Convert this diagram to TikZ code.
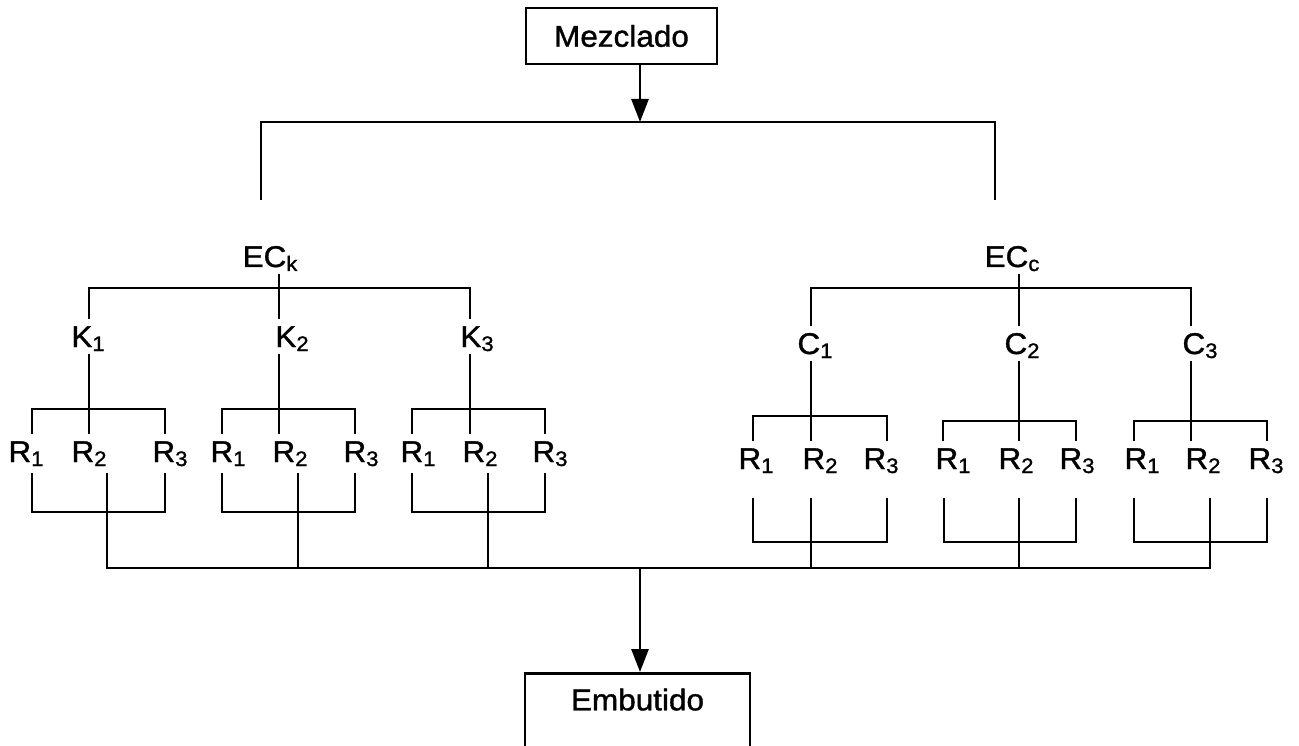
\documentclass[tikz,border=0pt]{standalone}
\usepackage{fontspec}
\setmainfont{Liberation Sans}[FakeStretch=1.05,FakeBold=1.2]
\usetikzlibrary{arrows.meta}
\newcommand\subidx[1]{\raisebox{-4pt}{\fontsize{21}{21}\selectfont#1}}

\begin{document}
\begin{tikzpicture}[
  x=1pt,y=1pt,font=\fontsize{30}{34}\selectfont,
  box/.style={draw,line width=2.6pt,minimum width=191pt,minimum height=56pt,inner sep=0pt},
  lbl/.style={anchor=base,inner xsep=0pt,inner ysep=7pt,text height=21pt,text depth=0pt},
  rl/.style={lbl,text depth=4pt},
  rr/.style={lbl,text depth=22pt},
  link/.style={line width=2.8pt},
  flow/.style={link,-{Triangle[length=23pt,width=17pt]}}
]
\path[use as bounding box] (0,0) rectangle (1299,-746);
\clip (0,0) rectangle (1299,-746);

\node[box] (mez) at (621.5,-36) {Mezclado};
\node[box,anchor=north,minimum width=225pt,text height=37pt,text depth=80pt]
  (emb) at (637.5,-672) {Embutido};

\coordinate (split) at (640,-122);
\coordinate (topk) at (261,-200);
\coordinate (topc) at (995,-200);
\draw[flow] (mez.south -| split) -- (split);
\draw[link] (topk) |- (split) -| (topc);

% EC_k branch
\node[lbl] (eck) at (270,-267) {EC\subidx{k}};
\node[lbl] (k1) at (88,-347) {K\subidx{1}};
\node[lbl] (k2) at (292,-347) {K\subidx{2}};
\node[lbl] (k3) at (477,-347) {K\subidx{3}};
\coordinate (eckj) at (279,-288);
\coordinate (k1j) at (89,-409);
\coordinate (k2j) at (279,-409);
\coordinate (k3j) at (470,-409);
\draw[link] (eck.south -| eckj) -- (eckj);
\draw[link] (k1.north -| k1j) |- (eckj) -| (k3.north -| k3j);
\draw[link] (eckj) -- (k2.north -| k2j);

\node[rl] (r11) at (26,-462) {R\subidx{1}};
\node[rl] (r12) at (89,-462) {R\subidx{2}};
\node[rl] (r13) at (170,-462) {R\subidx{3}};
\node[rl] (r21) at (228,-462) {R\subidx{1}};
\node[rl] (r22) at (290,-462) {R\subidx{2}};
\node[rl] (r23) at (361,-462) {R\subidx{3}};
\node[rl] (r31) at (418,-462) {R\subidx{1}};
\node[rl] (r32) at (480,-462) {R\subidx{2}};
\node[rl] (r33) at (550,-462) {R\subidx{3}};
\draw[link] (k1.south -| k1j) -- (k1j |- r12.north);
\draw[link] (k2.south -| k2j) -- (k2j |- r22.north);
\draw[link] (k3.south -| k3j) -- (k3j |- r32.north);
\draw[link] ([xshift=6pt]r11.north) |- (k1j) -| ([xshift=-5pt]r13.north);
\draw[link] ([xshift=-6pt]r21.north) |- (k2j) -| ([xshift=-6pt]r23.north);
\draw[link] ([xshift=-6pt]r31.north) |- (k3j) -| ([xshift=-5pt]r33.north);

% EC_c branch
\node[lbl] (ecc) at (1012,-267) {EC\subidx{c}};
\node[lbl] (c1) at (815,-354) {C\subidx{1}};
\node[lbl] (c2) at (1022,-354) {C\subidx{2}};
\node[lbl] (c3) at (1200,-354) {C\subidx{3}};
\coordinate (eccj) at (1019,-288);
\coordinate (c1j) at (811,-416);
\coordinate (c2j) at (1019,-421);
\coordinate (c3j) at (1191,-421);
\draw[link] (ecc.south -| eccj) -- (eccj);
\draw[link] (c1.north -| c1j) |- (eccj) -| (c3.north -| c3j);
\draw[link] (eccj) -- (c2.north -| c2j);

\node[rr] (r41) at (756,-469) {R\subidx{1}};
\node[rr] (r42) at (820,-469) {R\subidx{2}};
\node[rr] (r43) at (881,-469) {R\subidx{3}};
\node[rr] (r51) at (953,-469) {R\subidx{1}};
\node[rr] (r52) at (1016,-469) {R\subidx{2}};
\node[rr] (r53) at (1077,-469) {R\subidx{3}};
\node[rr] (r61) at (1142,-469) {R\subidx{1}};
\node[rr] (r62) at (1203,-469) {R\subidx{2}};
\node[rr] (r63) at (1266,-469) {R\subidx{3}};
\draw[link] (c1.south -| c1j) -- (c1j |- r42.north);
\draw[link] (c2.south -| c2j) -- (c2j |- r52.north);
\draw[link] (c3.south -| c3j) -- (c3j |- r62.north);
\draw[link] ([xshift=-3pt]r41.north) |- (c1j) -| ([xshift=6pt]r43.north);
\draw[link] ([xshift=-10pt]r51.north) |- (c2j) -| ([xshift=-1pt]r53.north);
\draw[link] ([xshift=-8pt]r61.north) |- (c3j) -| ([xshift=1pt]r63.north);

% lower brackets and merge
\coordinate (low1) at (107,-512);
\coordinate (low2) at (298,-512);
\coordinate (low3) at (488,-512);
\coordinate (low4) at (811,-542);
\coordinate (low5) at (1019,-542);
\coordinate (low6) at (1210,-542);
\coordinate (merge) at (640,-568);
\draw[link] ([xshift=6pt]r11.south) |- (low1) -| ([xshift=-5pt]r13.south);
\draw[link] ([xshift=-6pt]r21.south) |- (low2) -| ([xshift=-6pt]r23.south);
\draw[link] ([xshift=-6pt]r31.south) |- (low3) -| ([xshift=-5pt]r33.south);
\draw[link] ([xshift=-3pt]r41.south) |- (low4) -| ([xshift=6pt]r43.south);
\draw[link] ([xshift=-9pt]r51.south) |- (low5) -| ([xshift=-1pt]r53.south);
\draw[link] ([xshift=-8pt]r61.south) |- (low6) -| ([xshift=1pt]r63.south);
\draw[link] (low1 |- r12.south) -- (low1);
\draw[link] (low2 |- r22.south) -- (low2);
\draw[link] (low3 |- r32.south) -- (low3);
\draw[link] (low4 |- r42.south) -- (low4);
\draw[link] (low5 |- r52.south) -- (low5);
\draw[link] (low6 |- r62.south) -- (low6);
\draw[link] (low1) |- (merge) -| (low6);
\draw[link] (low2) -- (low2 |- merge);
\draw[link] (low3) -- (low3 |- merge);
\draw[link] (low4) -- (low4 |- merge);
\draw[link] (low5) -- (low5 |- merge);
\draw[flow] (merge) -- (emb.north -| merge);
\end{tikzpicture}
\end{document}
